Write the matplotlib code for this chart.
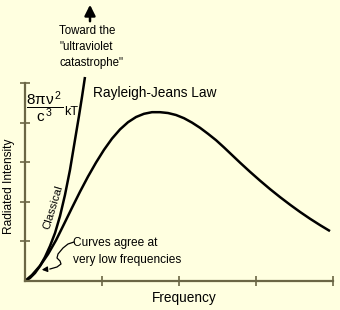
import matplotlib
matplotlib.use('Agg')
import matplotlib.pyplot as plt

plt.rcParams['font.family'] = ['Liberation Sans', 'DejaVu Sans']
plt.rcParams['mathtext.fontset'] = 'custom'
plt.rcParams['mathtext.rm'] = 'Liberation Sans'
plt.rcParams['mathtext.it'] = 'Liberation Sans'

# values (frequency and intensity in tick units)
classical_x = [0, 0.065, 0.13, 0.195, 0.26, 0.325, 0.39, 0.455, 0.519,
               0.584, 0.649, 0.701, 0.740, 0.779]
classical_y = [0, 0.076, 0.202, 0.379, 0.606, 0.884, 1.212, 1.641, 2.172,
               2.803, 3.561, 4.167, 4.646, 5.152]

planck_x = [0, 0.091, 0.195, 0.299, 0.403, 0.506, 0.610, 0.714, 0.818,
            0.922, 1.026, 1.130, 1.234, 1.338, 1.442, 1.545, 1.649, 1.753,
            1.857, 1.961, 2.065, 2.169, 2.273, 2.377, 2.481, 2.584, 2.688,
            2.792, 2.922, 3.052, 3.182, 3.312, 3.442, 3.571, 3.701, 3.831,
            3.961]
planck_y = [0, 0.152, 0.384, 0.677, 1.030, 1.434, 1.848, 2.253, 2.636,
            2.990, 3.313, 3.596, 3.828, 4.010, 4.141, 4.222, 4.263, 4.263,
            4.242, 4.192, 4.111, 4.000, 3.869, 3.717, 3.556, 3.374, 3.182,
            2.990, 2.758, 2.535, 2.321, 2.119, 1.927, 1.745, 1.573, 1.412,
            1.260]

x_ticks = [1, 2, 3, 4]
y_ticks = [1, 2, 3, 4, 5]

bg = '#FFFFE0'
axis_col = '#6B6645'


def px(x, y):
    # pixel position in the picture -> data coordinates
    return ((x - 25) / 77.0, (281 - y) / 39.6)


fig = plt.figure(figsize=(3.4, 3.1), dpi=100, facecolor=bg)
ax = fig.add_axes([25 / 340, 29 / 310, 308 / 340, 198 / 310])
ax.set_facecolor(bg)
ax.set_xlim(0, 4)
ax.set_ylim(0, 5)

for s in ['top', 'right']:
    ax.spines[s].set_visible(False)
for s in ['left', 'bottom']:
    ax.spines[s].set_color(axis_col)
    ax.spines[s].set_linewidth(1.6)

ax.set_xticks(x_ticks)
ax.set_yticks(y_ticks)
ax.tick_params(direction='inout', length=7, width=1.2, color=axis_col,
               labelbottom=False, labelleft=False)

ax.plot(classical_x, classical_y, color='black', lw=1.8, clip_on=False,
        solid_capstyle='butt', solid_joinstyle='round')
ax.plot(planck_x, planck_y, color='black', lw=1.8, clip_on=False,
        solid_capstyle='butt', solid_joinstyle='round')

# axis titles
fig.text(184 / 340, 1 - 298 / 310, 'Frequency', ha='center', va='center',
         fontsize=9.8)
fig.text(9 / 340, 1 - 186 / 310, 'Radiated Intensity', ha='center',
         va='center', rotation=90, fontsize=8.6)

# labels
ax.text(*px(93, 93), 'Rayleigh-Jeans Law', fontsize=9.8, ha='left',
        va='center')
ax.text(*px(45, 107), r'$\dfrac{8\pi\nu^{\,2}}{c^{\,3}}$', fontsize=11,
        ha='center', va='center')
ax.text(*px(64, 112), 'kT', fontsize=9, ha='left', va='center')
ax.text(*px(53, 207), 'Classical', fontsize=8.2, rotation=73,
        ha='center', va='center')
ax.text(*px(73, 251.5), 'Curves agree at\nvery low frequencies',
        fontsize=8.6, ha='left', va='center', linespacing=1.45)
fig.text(59 / 340, 1 - 47 / 310, 'Toward the\n"ultraviolet\ncatastrophe"',
         fontsize=8.3, ha='left', va='center', linespacing=1.39)

# squiggly pointer
sq = [px(74, 242), px(68, 244), px(63, 248), px(58, 254), px(57, 258),
      px(60, 261), px(61, 264), px(57, 267), px(50, 269)]
ax.plot([p[0] for p in sq], [p[1] for p in sq], color='black', lw=0.9,
        clip_on=False)
ax.annotate('', xy=px(39, 270), xytext=px(50, 269),
            arrowprops=dict(arrowstyle='-|>', color='black', lw=0.9,
                            mutation_scale=8), annotation_clip=False)

# arrow going off the top
ax.annotate('', xy=px(90, 2), xytext=px(90, 24),
            arrowprops=dict(arrowstyle='-|>', color='black', lw=1.8,
                            mutation_scale=16), annotation_clip=False)

fig.savefig('out.png', dpi=100, facecolor=bg)
